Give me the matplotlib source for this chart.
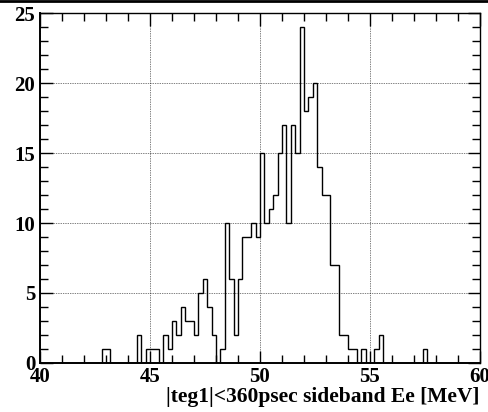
import matplotlib
matplotlib.use("Agg")
import matplotlib.pyplot as plt
import numpy as np
from matplotlib.lines import Line2D
from matplotlib.ticker import MultipleLocator

# 100 bins of 0.2 MeV between 40 and 60 MeV
bin_lo = 40.0
bin_width = 0.2
counts = [
    0, 0, 0, 0, 0, 0, 0, 0, 0, 0,      # 40.0 - 42.0
    0, 0, 0, 0, 1, 1, 0, 0, 0, 0,      # 42.0 - 44.0
    0, 0, 2, 0, 1, 1, 1, 0, 2, 1,      # 44.0 - 46.0
    3, 2, 4, 3, 3, 2, 5, 6, 4, 2,      # 46.0 - 48.0
    0, 1, 10, 6, 2, 6, 9, 9, 10, 9,    # 48.0 - 50.0
    15, 10, 11, 12, 15, 17, 10, 17, 15, 24,  # 50.0 - 52.0
    18, 19, 20, 14, 12, 12, 7, 7, 2, 2,      # 52.0 - 54.0
    1, 1, 0, 1, 0, 0, 1, 2, 0, 0,      # 54.0 - 56.0
    0, 0, 0, 0, 0, 0, 0, 1, 0, 0,      # 56.0 - 58.0
    0, 0, 0, 0, 0, 0, 0, 0, 0, 0,      # 58.0 - 60.0
]
x_ticks = [40, 45, 50, 55, 60]
y_ticks = [0, 5, 10, 15, 20, 25]
x_label = "|teg1|<360psec sideband Ee [MeV]"

edges = bin_lo + bin_width * np.arange(len(counts) + 1)

plt.rcParams["font.family"] = ["Liberation Serif", "DejaVu Serif"]
plt.rcParams["font.weight"] = "bold"

fig = plt.figure(figsize=(4.88, 4.12), dpi=100)
ax = fig.add_axes([40 / 488, 1 - 363 / 412, 440 / 488, 350 / 412])

ax.stairs(counts, edges, color="black", lw=1.0, baseline=0)

ax.set_xlim(40, 60)
ax.set_ylim(0, 25)
ax.set_xticks(x_ticks)
ax.set_yticks(y_ticks)
ax.xaxis.set_minor_locator(MultipleLocator(1))
ax.yaxis.set_minor_locator(MultipleLocator(1))

ax.grid(True, which="major", color="black", ls=(0, (1, 1.5)), lw=0.5)
ax.tick_params(which="both", direction="in", top=True, right=True,
               labelsize=15, width=1.0)
ax.tick_params(axis="x", pad=3)
ax.tick_params(axis="y", pad=3.5)
ax.tick_params(which="major", length=9)
ax.tick_params(which="minor", length=5.5)
for lab in ax.get_xticklabels() + ax.get_yticklabels():
    lab.set_fontweight("bold")

for side in ("left", "bottom"):
    ax.spines[side].set_linewidth(1.4)
for side in ("top", "right"):
    ax.spines[side].set_linewidth(1.0)

ax.set_xlabel(x_label, fontsize=15.5, fontweight="bold", loc="right",
              labelpad=0)

# canvas border line at the top
fig.add_artist(Line2D([0, 1], [0.997, 0.997], color="black", lw=2,
                      transform=fig.transFigure))

fig.savefig("out.png", dpi=100)
